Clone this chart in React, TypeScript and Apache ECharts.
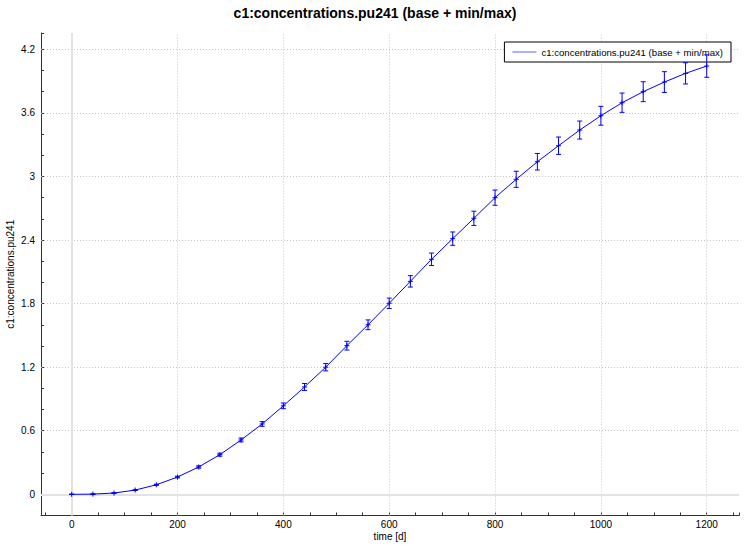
import { useEffect, useRef } from "react";
import * as echarts from "echarts";

// time steps [d]
const days = [
  0, 40, 80, 120, 160, 200, 240, 280, 320, 360, 400, 440, 480, 520, 560, 600,
  640, 680, 720, 760, 800, 840, 880, 920, 960, 1000, 1040, 1080, 1120, 1160, 1200,
];

// base run
const baseValues = [
  0, 0.002, 0.012, 0.04, 0.09, 0.163, 0.258, 0.374, 0.513, 0.664, 0.835, 1.013,
  1.2, 1.403, 1.6, 1.803, 2.01, 2.218, 2.413, 2.605, 2.8, 2.973, 3.139, 3.29,
  3.438, 3.573, 3.696, 3.8, 3.891, 3.973, 4.042,
];

// lower end of the min/max band
const minValues = [
  0, 0.001, 0.01, 0.037, 0.085, 0.155, 0.247, 0.36, 0.495, 0.642, 0.808, 0.98,
  1.165, 1.362, 1.554, 1.754, 1.956, 2.159, 2.35, 2.538, 2.728, 2.897, 3.061,
  3.208, 3.353, 3.484, 3.605, 3.706, 3.793, 3.873, 3.936,
];

// upper end of the min/max band
const maxValues = [
  0, 0.003, 0.014, 0.043, 0.095, 0.171, 0.269, 0.388, 0.531, 0.686, 0.862,
  1.046, 1.235, 1.444, 1.646, 1.852, 2.064, 2.277, 2.476, 2.672, 2.872, 3.049,
  3.217, 3.372, 3.523, 3.662, 3.787, 3.894, 3.989, 4.073, 4.148,
];

const xGridLines = [200, 400, 600, 800, 1000, 1200];
const yGridLines = [0.6, 1.2, 1.8, 2.4, 3, 3.6, 4.2];

const seriesName = "c1:concentrations.pu241 (base + min/max)";
const FONT = "'Liberation Sans', Arial, sans-serif";
const BLUE = "#0000ff";

export default function App() {
  const chartRef = useRef<HTMLDivElement>(null);

  useEffect(() => {
    document.body.style.margin = "0";
    if (!chartRef.current) return;
    const chart = echarts.init(chartRef.current, null, { renderer: "svg" });

    const dotted = { color: "#c4c4c4", type: [1, 2], width: 1 };
    const zeroLine = { color: "#e2e2e2", type: "solid", width: 2 };

    const option = {
      animation: false,
      textStyle: { fontFamily: FONT },
      title: {
        text: seriesName,
        left: "center",
        top: 1,
        textStyle: { fontSize: 14, fontWeight: "bold", color: "#000", fontFamily: FONT },
      },
      legend: {
        data: [{ name: seriesName, icon: "rect" }],
        right: 19,
        top: 42,
        padding: [5, 8, 5, 8],
        itemWidth: 24,
        itemHeight: 1,
        backgroundColor: "#fff",
        borderColor: "#000",
        borderWidth: 1,
        borderRadius: 0,
        itemStyle: { color: "#5c5cff" },
        textStyle: { fontSize: 9.6, color: "#000", fontFamily: FONT },
      },
      grid: { left: 41, right: 11, top: 33, bottom: 29.5, outerBoundsMode: "none" },
      xAxis: {
        type: "value",
        min: -58,
        max: 1261,
        splitNumber: 26,
        minInterval: 50,
        maxInterval: 50,
        name: "time [d]",
        nameLocation: "middle",
        nameGap: 16,
        nameMoveOverlap: false,
        nameTextStyle: { fontSize: 10, color: "#000", fontFamily: FONT },
        axisLine: { onZero: false, lineStyle: { color: "#333", width: 1 } },
        axisTick: { inside: true, length: 3, lineStyle: { color: "#333" } },
        axisLabel: {
          fontSize: 10,
          color: "#000",
          margin: 4,
          formatter: (v: number) => (Math.abs(v % 200) < 1e-6 ? String(v) : ""),
        },
        splitLine: { show: false },
      },
      yAxis: {
        type: "value",
        min: -0.2,
        max: 4.354,
        interval: 0.2,
        name: "c1:concentrations.pu241",
        nameLocation: "middle",
        nameGap: 26,
        nameMoveOverlap: false,
        nameTextStyle: { fontSize: 10, color: "#000", fontFamily: FONT },
        axisLine: { show: true, onZero: false, lineStyle: { color: "#333", width: 1 } },
        axisTick: { show: true, inside: true, length: 3, lineStyle: { color: "#333" } },
        axisLabel: {
          fontSize: 10,
          color: "#000",
          margin: 6,
          formatter: (v: number) => {
            if (v < -1e-9) return "";
            const r = v / 0.6;
            return Math.abs(r - Math.round(r)) < 1e-6 ? String(Math.round(v * 10) / 10) : "";
          },
        },
        splitLine: { show: false },
      },
      series: [
        {
          name: seriesName,
          type: "line",
          z: 3,
          symbol: "none",
          showSymbol: false,
          color: BLUE,
          lineStyle: { color: BLUE, width: 1 },
          data: days.map((d, i) => [d, baseValues[i]]),
          markLine: {
            silent: true,
            z: 1,
            symbol: ["none", "none"],
            label: { show: false },
            emphasis: { disabled: true },
            data: [
              ...yGridLines.map((v) => ({ yAxis: v, lineStyle: dotted })),
              ...xGridLines.map((v) => ({ xAxis: v, lineStyle: dotted })),
              { yAxis: 0, lineStyle: zeroLine },
              { xAxis: 0, lineStyle: zeroLine },
            ],
          },
        },
        {
          name: "minmax",
          type: "custom",
          z: 4,
          silent: true,
          data: days.map((d, i) => [d, minValues[i], maxValues[i], baseValues[i]]),
          renderItem: (_params: unknown, api: any) => {
            const x = api.value(0);
            const lo = api.coord([x, api.value(1)]);
            const hi = api.coord([x, api.value(2)]);
            const mid = api.coord([x, api.value(3)]);
            const w = 2.5;
            const style = { stroke: BLUE, lineWidth: 1 };
            const seg = (x1: number, y1: number, x2: number, y2: number) => ({
              type: "line",
              shape: { x1, y1, x2, y2 },
              style,
            });
            return {
              type: "group",
              children: [
                seg(lo[0], lo[1], hi[0], hi[1]),
                seg(lo[0] - w, lo[1], lo[0] + w, lo[1]),
                seg(hi[0] - w, hi[1], hi[0] + w, hi[1]),
                // "+" marker at the base value
                seg(mid[0] - w, mid[1], mid[0] + w, mid[1]),
                seg(mid[0], mid[1] - w, mid[0], mid[1] + w),
              ],
            };
          },
        },
      ],
    };

    chart.setOption(option as any);
    return () => chart.dispose();
  }, []);

  return <div ref={chartRef} style={{ width: 750, height: 545 }} />;
}
